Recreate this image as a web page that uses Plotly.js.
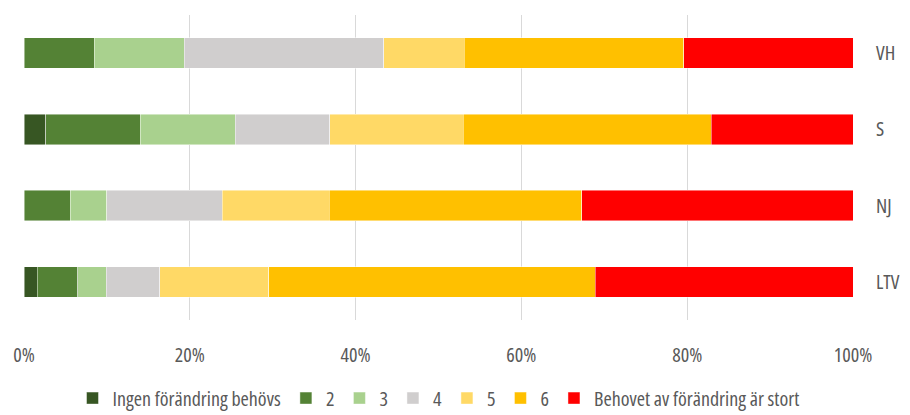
<!DOCTYPE html>
<html>
<head>
<meta charset="utf-8">
<script src="https://cdn.plot.ly/plotly-3.0.1.min.js"></script>
<style>
html,body{margin:0;padding:0;background:#fff;}
#chart{width:910px;height:415px;}
svg text{font-stretch:condensed;}
</style>
</head>
<body>
<div id="chart"></div>
<script>
const categories = ['LTV', 'NJ', 'S', 'VH'];
const seriesNames = ['Ingen förändring behövs', '2', '3', '4', '5', '6', 'Behovet av förändring är stort'];
const ingen = [1.6, 0, 2.6, 0];
const s2 = [4.9, 5.6, 11.4, 8.5];
const s3 = [3.4, 4.4, 11.5, 10.8];
const s4 = [6.5, 13.9, 11.4, 24.1];
const s5 = [13.1, 12.9, 16.1, 9.7];
const s6 = [39.4, 30.5, 29.9, 26.5];
const stort = [31.1, 32.7, 17.1, 20.4];
const xTicks = [0, 20, 40, 60, 80, 100];
const xTickLabels = ['0%', '20%', '40%', '60%', '80%', '100%'];

const colors = ['#375623', '#548235', '#A9D18E', '#D0CECE', '#FFD966', '#FFC000', '#FF0000'];
const values = [ingen, s2, s3, s4, s5, s6, stort];

const font = "'Open Sans', sans-serif";

const data = values.map((v, i) => ({
  type: 'bar',
  orientation: 'h',
  y: categories,
  x: v,
  name: seriesNames[i],
  marker: {color: colors[i], line: {color: 'rgba(255,255,255,0.6)', width: 0.75}},
  hoverinfo: 'none'
}));

const layout = {
  width: 910,
  height: 415,
  barmode: 'stack',
  bargap: 0.6,
  margin: {l: 24, r: 57, t: 15, b: 95, autoexpand: false},
  paper_bgcolor: '#fff',
  plot_bgcolor: '#fff',
  font: {family: font, size: 19, color: '#595959'},
  xaxis: {
    range: [0, 100],
    tickvals: xTicks,
    ticktext: xTickLabels,
    showgrid: true,
    gridcolor: '#D9D9D9',
    gridwidth: 1,
    zeroline: false,
    showline: false,
    ticks: '',
    ticklabelstandoff: 21,
    tickfont: {family: font, size: 20, color: '#595959'},
    fixedrange: true
  },
  yaxis: {
    side: 'right',
    categoryorder: 'array',
    categoryarray: categories,
    showgrid: false,
    zeroline: false,
    showline: false,
    ticks: '',
    ticklabelstandoff: 22,
    tickfont: {family: font, size: 20, color: '#595959'},
    fixedrange: true
  },
  legend: {
    orientation: 'h',
    x: 0.5,
    xanchor: 'center',
    y: -0.256,
    yanchor: 'middle',
    traceorder: 'normal',
    font: {family: font, size: 20, color: '#595959'},
    itemwidth: 30,
    tracegroupgap: 0
  },
  showlegend: true
};

Plotly.newPlot('chart', data, layout, {displayModeBar: false, staticPlot: true});
</script>
</body>
</html>
